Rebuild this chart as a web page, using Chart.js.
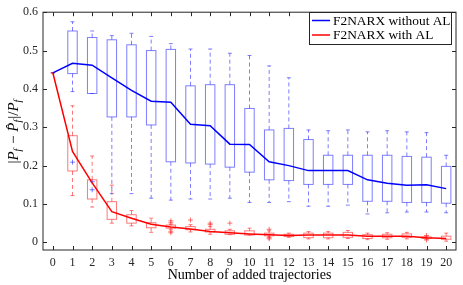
<!DOCTYPE html>
<html>
<head>
<meta charset="utf-8">
<script src="https://cdn.jsdelivr.net/npm/chart.js@4/dist/chart.umd.min.js"></script>
<style>
html, body { margin: 0; padding: 0; background: #fff; }
</style>
</head>
<body>
<canvas id="chart" width="463" height="285"></canvas>
<script>
// number of added trajectories
const steps = [0,1,2,3,4,5,6,7,8,9,10,11,12,13,14,15,16,17,18,19,20];
const yTicks = [0, 0.1, 0.2, 0.3, 0.4, 0.5, 0.6];

// F2NARX without AL (blue)
const blueHigh   = [0.442,0.575,0.551,0.539,0.545,0.537,0.518,0.504,0.504,0.493,0.487,0.460,0.429,0.293,0.291,0.293,0.288,0.291,0.288,0.286,0.227];
const blueQ3     = [0.442,0.551,0.534,0.528,0.515,0.500,0.503,0.408,0.411,0.411,0.349,0.293,0.297,0.268,0.227,0.227,0.227,0.227,0.224,0.222,0.198];
const blueMedian = [0.442,0.467,0.462,0.429,0.396,0.368,0.365,0.308,0.304,0.256,0.255,0.210,0.200,0.187,0.187,0.187,0.163,0.154,0.149,0.150,0.140];
const blueQ1     = [0.442,0.440,0.388,0.327,0.327,0.306,0.210,0.207,0.204,0.196,0.183,0.163,0.161,0.151,0.151,0.151,0.107,0.107,0.104,0.104,0.102];
const blueLow    = [0.442,0.393,0.388,0.127,0.127,0.115,0.110,0.113,0.113,0.115,0.104,0.104,0.106,0.094,0.094,0.097,0.074,0.077,0.079,0.079,0.077];
const blueOutliers = [[],[0.209],[0.158,0.137],[],[],[],[],[],[],[],[],[],[],[],[],[],[],[],[],[],[]];

// F2NARX with AL (red)
const redHigh   = [0.442,0.356,0.225,0.149,0.083,0.063,0.047,0.046,0.041,0.034,0.037,0.030,0.024,0.028,0.028,0.031,0.024,0.025,0.026,0.016,0.024];
const redQ3     = [0.442,0.278,0.163,0.106,0.072,0.051,0.045,0.041,0.034,0.030,0.030,0.024,0.021,0.024,0.024,0.026,0.020,0.021,0.022,0.014,0.016];
const redMedian = [0.442,0.237,0.155,0.080,0.063,0.047,0.040,0.035,0.028,0.025,0.022,0.020,0.018,0.019,0.019,0.019,0.016,0.016,0.016,0.012,0.010];
const redQ1     = [0.442,0.186,0.113,0.060,0.050,0.038,0.037,0.033,0.027,0.021,0.019,0.017,0.015,0.012,0.012,0.013,0.010,0.012,0.013,0.010,0.008];
const redLow    = [0.442,0.122,0.092,0.050,0.043,0.026,0.034,0.027,0.021,0.020,0.019,0.014,0.013,0.009,0.009,0.010,0.007,0.008,0.009,0.008,0.003];
const redOutliers = [[],[],[],[],[],[],[0.056,0.051,0.029,0.025],[0.058],[0.050,0.046],[0.050],[],[0.034,0.012,0.009],[],[],[],[],[],[],[],[0.018,0.006],[]];

const labels = ['F2NARX without AL', 'F2NARX with AL'];
const xTitle = 'Number of added trajectories';
const axisColor = '#262626';
const serif = "'Liberation Serif', 'Times New Roman', serif";

function drawBoxes(ctx, xs, ys, low, q1, q3, high, outliers, color) {
    const halfBox = 0.24, halfCap = 0.1;
    ctx.save();
    ctx.strokeStyle = color;
    ctx.lineWidth = 1;
    steps.forEach((s, i) => {
        const x0 = xs.getPixelForValue(s - halfBox);
        const x1 = xs.getPixelForValue(s + halfBox);
        const xc = xs.getPixelForValue(s);
        const c0 = xs.getPixelForValue(s - halfCap);
        const c1 = xs.getPixelForValue(s + halfCap);
        // whiskers
        ctx.setLineDash([4, 3]);
        ctx.beginPath();
        ctx.moveTo(xc, ys.getPixelForValue(q3[i]));
        ctx.lineTo(xc, ys.getPixelForValue(high[i]));
        ctx.moveTo(xc, ys.getPixelForValue(q1[i]));
        ctx.lineTo(xc, ys.getPixelForValue(low[i]));
        ctx.stroke();
        ctx.setLineDash([]);
        ctx.beginPath();
        ctx.moveTo(c0, ys.getPixelForValue(high[i]));
        ctx.lineTo(c1, ys.getPixelForValue(high[i]));
        ctx.moveTo(c0, ys.getPixelForValue(low[i]));
        ctx.lineTo(c1, ys.getPixelForValue(low[i]));
        ctx.stroke();
        // box
        if (s > 0) {
            const top = ys.getPixelForValue(q3[i]);
            const bot = ys.getPixelForValue(q1[i]);
            ctx.strokeRect(x0, top, x1 - x0, bot - top);
        }
        // outliers
        outliers[i].forEach(v => {
            const py = ys.getPixelForValue(v);
            ctx.beginPath();
            ctx.moveTo(xc - 2.5, py); ctx.lineTo(xc + 2.5, py);
            ctx.moveTo(xc, py - 2.5); ctx.lineTo(xc, py + 2.5);
            ctx.stroke();
        });
    });
    ctx.restore();
}

const boxPlugin = {
    id: 'boxes',
    beforeDatasetsDraw(chart) {
        const { ctx, scales: { x, y } } = chart;
        drawBoxes(ctx, x, y, blueLow, blueQ1, blueQ3, blueHigh, blueOutliers, 'rgba(40,40,255,0.6)');
        drawBoxes(ctx, x, y, redLow, redQ1, redQ3, redHigh, redOutliers, 'rgba(255,30,30,0.6)');
    }
};

const framePlugin = {
    id: 'frame',
    afterDraw(chart) {
        const { ctx, chartArea: a, scales: { x, y } } = chart;
        ctx.save();
        ctx.strokeStyle = axisColor;
        ctx.lineWidth = 1;
        ctx.strokeRect(a.left, a.top, a.right - a.left, a.bottom - a.top);
        ctx.beginPath();
        steps.forEach(s => {
            const px = Math.round(x.getPixelForValue(s)) + 0.5;
            ctx.moveTo(px, a.bottom); ctx.lineTo(px, a.bottom - 4);
            ctx.moveTo(px, a.top); ctx.lineTo(px, a.top + 4);
        });
        yTicks.forEach(v => {
            const py = Math.round(y.getPixelForValue(v)) + 0.5;
            ctx.moveTo(a.left, py); ctx.lineTo(a.left + 4, py);
            ctx.moveTo(a.right, py); ctx.lineTo(a.right - 4, py);
        });
        ctx.stroke();

        // x axis title
        ctx.fillStyle = '#000';
        ctx.font = '14px ' + serif;
        ctx.textAlign = 'center';
        ctx.textBaseline = 'middle';
        ctx.fillText(xTitle, (a.left + a.right) / 2, 275);
        ctx.textAlign = 'left';

        // legend
        const lx = 309, ly = 12, lw = 142, lh = 32;
        ctx.fillStyle = '#fff';
        ctx.fillRect(lx, ly, lw, lh);
        ctx.strokeRect(lx + 0.5, ly + 0.5, lw, lh);
        const colors = ['#0000ff', '#ff0000'];
        ctx.font = '13.4px ' + serif;
        labels.forEach((t, i) => {
            const ry = ly + 8.5 + i * 14.5;
            ctx.strokeStyle = colors[i];
            ctx.lineWidth = 1.5;
            ctx.beginPath();
            ctx.moveTo(lx + 3, ry); ctx.lineTo(lx + 21, ry);
            ctx.stroke();
            ctx.fillStyle = '#000';
            ctx.fillText(t, lx + 24, ry + 0.5);
        });

        // y axis title with subscripts
        const parts = [
            ['|', false, false], ['P', true, false], ['f', true, true],
            [' \u2212 ', false, false], ['P\u0302', true, false], ['f', true, true],
            ['|/', false, false], ['P', true, false], ['f', true, true]
        ];
        const fontFor = p => (p[1] ? 'italic ' : '') + (p[2] ? '10px ' : '15px ') + serif;
        let total = 0;
        parts.forEach(p => { ctx.font = fontFor(p); total += ctx.measureText(p[0]).width + (p[2] ? 1 : 0); });
        ctx.translate(13, (a.top + a.bottom) / 2);
        ctx.rotate(-Math.PI / 2);
        ctx.fillStyle = '#000';
        ctx.textBaseline = 'alphabetic';
        let cx = -total / 2;
        parts.forEach(p => {
            ctx.font = fontFor(p);
            ctx.fillText(p[0], cx, p[2] ? 7.5 : 5);
            cx += ctx.measureText(p[0]).width + (p[2] ? 1 : 0);
        });
        ctx.restore();
    }
};

new Chart(document.getElementById('chart').getContext('2d'), {
    type: 'line',
    data: {
        datasets: [{
            label: labels[0],
            data: steps.map((s, i) => ({ x: s, y: blueMedian[i] })),
            borderColor: '#0000ff',
            borderWidth: 1.5,
            pointRadius: 0,
            tension: 0
        }, {
            label: labels[1],
            data: steps.map((s, i) => ({ x: s, y: redMedian[i] })),
            borderColor: '#ff0000',
            borderWidth: 1.5,
            pointRadius: 0,
            tension: 0
        }]
    },
    options: {
        responsive: false,
        animation: false,
        devicePixelRatio: 1,
        layout: { padding: { top: 8, right: 7, left: 0, bottom: 0 } },
        plugins: {
            legend: { display: false },
            tooltip: { enabled: false }
        },
        scales: {
            x: {
                type: 'linear',
                min: -0.5,
                max: 20.5,
                afterBuildTicks: s => { s.ticks = steps.map(v => ({ value: v })); },
                afterFit: s => { s.height = 35; },
                grid: { display: false, drawTicks: false },
                border: { display: false },
                ticks: { color: axisColor, font: { family: serif, size: 12 }, padding: 6, autoSkip: false, maxRotation: 0 }
            },
            y: {
                min: -0.02,
                max: 0.6,
                afterBuildTicks: s => { s.ticks = yTicks.map(v => ({ value: v })); },
                afterFit: s => { s.width = 43; },
                grid: { display: false, drawTicks: false },
                border: { display: false },
                ticks: { color: axisColor, font: { family: serif, size: 12 }, padding: 5, callback: v => v === 0 ? '0' : v.toFixed(1) }
            }
        }
    },
    plugins: [boxPlugin, framePlugin]
});
</script>
</body>
</html>
